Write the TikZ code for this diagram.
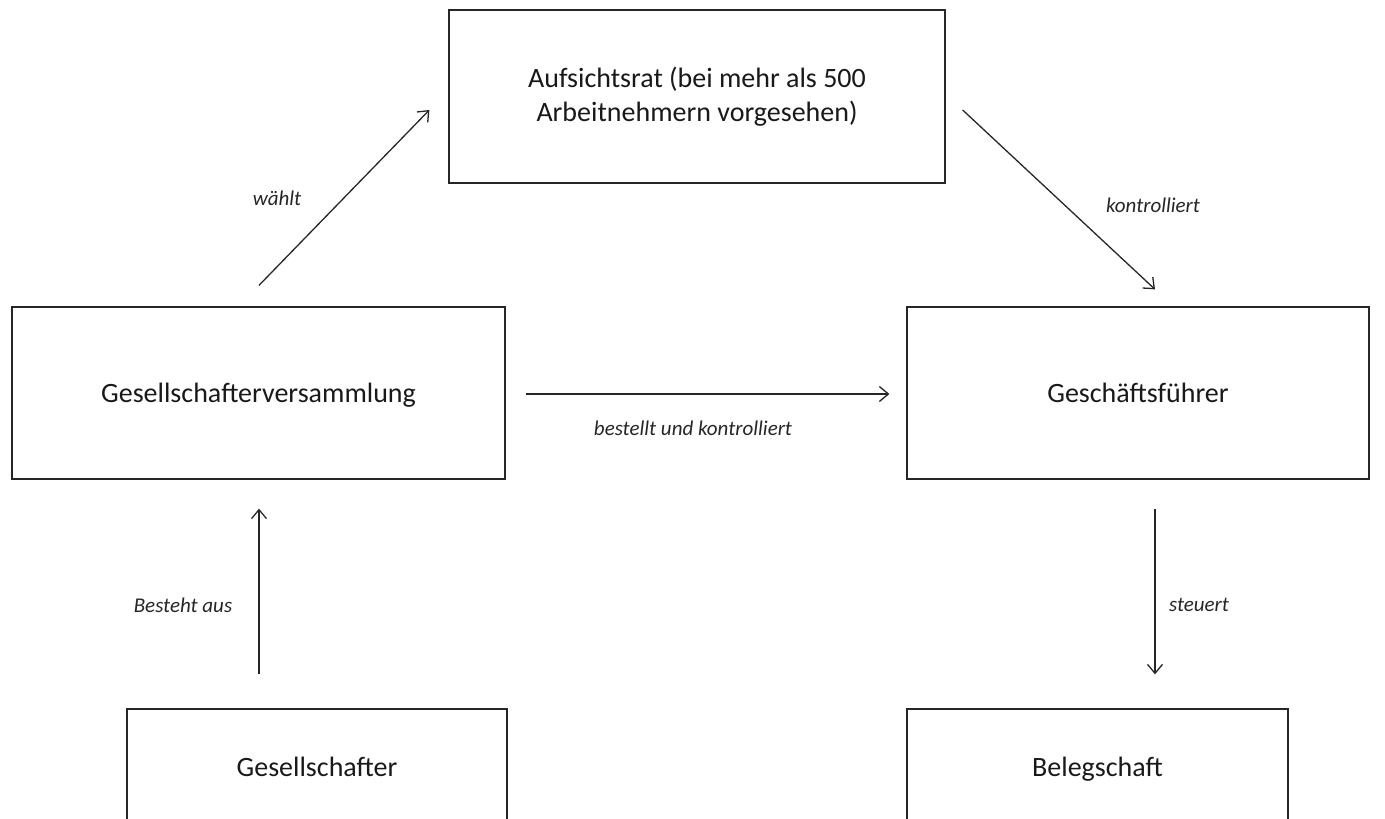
\documentclass[tikz,border=0pt]{standalone}
\usepackage{fontspec}
\setmainfont{Carlito}
\usetikzlibrary{arrows.meta,calc}
\tikzset{
  box/.style={draw=black!85, line width=1.3pt, rectangle, inner sep=0pt, align=center,
    font=\fontsize{28}{34}\selectfont, text=black!90},
  oneline/.style={text height=23pt, text depth=5pt},
  arr/.style={draw=black!85, line width=1.3pt, -{Straight Barb[length=9pt,width=15pt,line width=1.3pt]}},
  lbl/.style={font=\fontsize{21}{25}\selectfont\itshape, text=black!85, inner sep=0pt}
}
\begin{document}
\begin{tikzpicture}[x=1pt,y=-1pt]
\useasboundingbox (0,0) rectangle (1385,819);
\clip (0,0) rectangle (1385,819);
\node[box, minimum width=496pt, minimum height=173pt] (auf) at (697,96.5) {Aufsichtsrat (bei mehr als 500\\Arbeitnehmern vorgesehen)};
\node[box, oneline, minimum width=493pt, minimum height=172pt] (gv) at (258.5,393) {Gesellschafterversammlung};
\node[box, oneline, minimum width=462pt, minimum height=172pt] (gf) at (1138,393) {Geschäftsführer};
\node[box, oneline, minimum width=380pt, minimum height=116pt] (ges) at (317,767) {Gesellschafter};
\node[box, oneline, minimum width=381pt, minimum height=116pt] (bel) at (1097.5,767) {Belegschaft};

\draw[arr] ($(gv.north)+(0.5,-21)$) -- ($(auf.west)+(-19,13.5)$);
\draw[arr] ($(auf.east)+(17,13.5)$) -- ($(gf.north)+(17,-17)$);
\draw[arr] ($(gv.east)+(20,1)$) -- ($(gf.west)+(-17,1)$);
\draw[arr] ($(gv.south|-ges.north)+(0.5,-34)$) -- ($(gv.south)+(0.5,29)$);
\draw[arr] ($(gf.south)+(17,29)$) -- ($(gf.south|-bel.north)+(17,-34)$);

\node[lbl] (l1) at (277,198) {wählt};
\node[lbl] (l2) at (1153,205) {kontrolliert};
\node[lbl] (l3) at (693,428) {bestellt und kontrolliert};
\node[lbl] (l4) at (183,605) {Besteht aus};
\node[lbl] (l5) at (1199,605) {steuert};
\end{tikzpicture}
\end{document}
